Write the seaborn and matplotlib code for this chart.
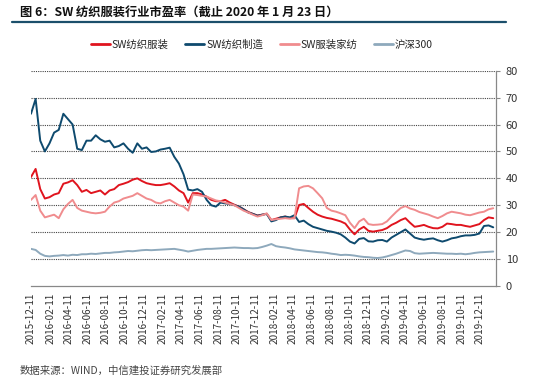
import pandas as pd
import seaborn as sns
import matplotlib.pyplot as plt
import matplotlib.dates as mdates

# 数据（从图中读取，约每半月一个点）
dates = pd.date_range("2015-12-11", "2020-01-23", periods=101)

sw_textile_apparel = [
    40.5, 43.5, 36, 32.5, 33, 34, 34.5, 38, 38.5, 39.3,
    37.5, 35, 35.7, 34.5, 35, 35.5, 34, 35.5, 36, 37.5,
    38, 38.6, 39.5, 40, 39, 38.2, 37.8, 37.5, 37.5, 37.8,
    38.2, 37, 35.5, 34.5, 31, 34.5, 34.5, 34, 33.2, 32,
    31.5, 31.5, 32, 31, 30.2, 29.5, 28.5, 27.5, 26.8, 26.2,
    26.5, 26.8, 24.5, 25, 25.5, 25.8, 25.3, 25.2, 30.1, 30.5,
    29, 27.6, 26.5, 25.8, 25.3, 25, 24.5, 24, 23.2, 21,
    19.2, 21, 22, 20.5, 20.2, 20.5, 20.8, 21.5, 22.7, 23.5,
    24.5, 25.2, 23.5, 22, 22.3, 22.7, 22, 21.5, 21.4, 22,
    23.2, 23, 22.7, 22.7, 22.3, 22, 22.5, 23, 24.5, 25.5,
    25.2,
]
sw_textile_mfg = [
    64, 69.5, 54, 50, 53, 57, 58, 64, 62, 60,
    51, 50.5, 54, 54, 56, 54.5, 53.6, 54, 51.5, 52,
    53, 51, 49.5, 53, 51, 51.5, 49.8, 50, 50.7, 51,
    51.4, 48, 45.5, 41.5, 35.8, 35.5, 36, 35, 32, 30,
    29.5, 31, 30.7, 30.5, 30, 29.5, 28.5, 27.3, 26.8, 26.1,
    26.5, 26.8, 24, 24.5, 25.5, 25.8, 25.5, 26.3, 23.8, 24.3,
    23, 22, 21.5, 21, 20.5, 20.2, 19.8, 19.2, 18, 16.5,
    15.8, 17.5, 17.8, 16.6, 16.5, 17, 17.1, 16.5, 18, 19,
    20, 21, 19.5, 18, 17.5, 17.2, 17.5, 17.7, 17, 16.5,
    17, 17.7, 18, 18.5, 18.8, 18.8, 19, 19.5, 22.3, 22.5,
    21.8,
]
sw_apparel_home = [
    32, 33.8, 28, 25.5, 26, 26.5, 25.2, 28.5, 30.5, 32,
    29, 28, 27.6, 27.2, 27, 27.2, 27.6, 29.5, 31, 31.5,
    32.5, 33, 33.5, 34.5, 33.5, 32.5, 32, 31, 30.7, 31.5,
    32, 31, 30, 29.5, 28, 34, 33.8, 33.5, 33.2, 32.5,
    31.8, 31.5, 31, 30.5, 30, 29, 28, 27.3, 26.5, 25.8,
    26.3, 27, 24.5, 24.8, 25, 25.2, 25, 25.2, 36.3, 37,
    37.2, 36.3, 34.5, 32.6, 29, 28, 27.6, 27, 26.3, 23.5,
    21.5, 24, 25, 23, 22.7, 22.8, 23, 24, 25.8, 27.5,
    29, 29.7, 28.8, 28.3, 27.5, 27, 26.5, 25.8, 25.2, 26,
    27, 27.6, 27.3, 27, 26.5, 26.3, 26.8, 27.3, 27.6, 28.5,
    28.9,
]
hs300 = [
    13.8, 13.4, 12, 11.2, 11, 11.2, 11.3, 11.5, 11.3, 11.6,
    11.5, 11.8, 11.8, 12, 11.9, 12.1, 12.3, 12.3, 12.5, 12.6,
    12.8, 13, 12.9, 13.1, 13.3, 13.4, 13.3, 13.4, 13.5, 13.6,
    13.7, 13.8, 13.5, 13.2, 12.8, 13.1, 13.4, 13.6, 13.8, 13.8,
    13.9, 14, 14.1, 14.2, 14.3, 14.2, 14.1, 14.1, 14, 14.1,
    14.5, 15, 15.6, 14.8, 14.5, 14.3, 14, 13.6, 13.4, 13.2,
    13, 12.8, 12.6, 12.5, 12.3, 12, 11.8, 11.5, 11.6, 11.5,
    11.3, 11, 10.8, 10.7, 10.5, 10.4, 10.6, 11, 11.5, 12,
    12.6, 13.2, 13, 12.2, 12, 12.1, 12.2, 12.3, 12.2, 12.1,
    12, 12, 11.9, 12, 11.8, 12, 12.3, 12.5, 12.6, 12.7,
    12.8,
]

series_names = ["SW纺织服装", "SW纺织制造", "SW服装家纺", "沪深300"]
colors = ["#E0141E", "#0E4A6E", "#F08C8E", "#8EA9BC"]
tick_dates = pd.date_range("2015-12-01", "2019-12-01", freq="2MS") + pd.Timedelta(days=10)

df = pd.DataFrame({
    "date": dates,
    series_names[0]: sw_textile_apparel,
    series_names[1]: sw_textile_mfg,
    series_names[2]: sw_apparel_home,
    series_names[3]: hs300,
})
long_df = df.melt(id_vars="date", var_name="series", value_name="pe")

sns.set_style("white")
plt.rcParams["font.family"] = ["Noto Sans CJK SC", "DejaVu Sans"]

fig = plt.figure(figsize=(5.5, 3.82), dpi=100)
ax = fig.add_axes([31 / 550, 1 - 286 / 382, 465 / 550, 215.3 / 382])

sns.lineplot(data=long_df, x="date", y="pe", hue="series", hue_order=series_names,
             palette=colors, linewidth=1.4, ax=ax, legend=False)

ax.set_xlim(pd.Timestamp("2015-12-11"), pd.Timestamp("2020-02-01"))
ax.set_ylim(0, 80)
ax.set_yticks(range(0, 81, 10))
ax.yaxis.tick_right()
ax.set_xlabel("")
ax.set_ylabel("")
for y in range(10, 81, 10):
    ax.axhline(y, color="#444444", linestyle=(0, (1, 1)), linewidth=0.8, zorder=0)

ax.set_xticks(tick_dates)
ax.xaxis.set_major_formatter(mdates.DateFormatter("%Y-%m-%d"))
plt.setp(ax.get_xticklabels(), rotation=90, fontsize=7.2, color="#333333")
plt.setp(ax.get_yticklabels(), fontsize=8, color="#333333")
ax.tick_params(axis="x", direction="out", length=3, color="#888888", pad=2)
ax.tick_params(axis="y", direction="out", length=3, color="#888888", pad=4, right=True, left=False)

for side in ["top", "left"]:
    ax.spines[side].set_visible(False)
for side in ["bottom", "right"]:
    ax.spines[side].set_color("#888888")
    ax.spines[side].set_linewidth(0.9)

# 图例
handles = [plt.Line2D([], [], color=c, linewidth=2) for c in colors]
fig.legend(handles, series_names, loc="center", bbox_to_anchor=(262 / 550, 1 - 45 / 382),
           ncol=4, frameon=False, fontsize=7.5, handlelength=1.8, handletextpad=0.2,
           columnspacing=1.6)

# 标题与分隔线
fig.text(20 / 550, 1 - 12 / 382, "图 6：SW 纺织服装行业市盈率（截止 2020 年 1 月 23 日）",
         fontsize=8.8, fontweight="bold", va="center", ha="left", color="#111111")
fig.add_artist(plt.Line2D([12 / 550, 506 / 550], [1 - 22 / 382, 1 - 22 / 382],
                          color="#1B4F6B", linewidth=1.6))

fig.text(20 / 550, 1 - 371 / 382, "数据来源：WIND，中信建投证券研究发展部",
         fontsize=7.5, style="italic", va="center", ha="left", color="#444444")

fig.savefig("out.png", dpi=100)
